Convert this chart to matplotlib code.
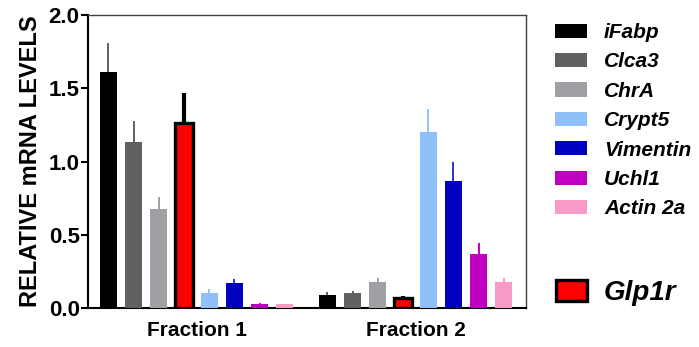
import matplotlib
matplotlib.use("Agg")
import matplotlib.pyplot as plt
from matplotlib.patches import Patch
import numpy as np

plt.rcParams['font.family'] = ['Liberation Sans', 'DejaVu Sans']
plt.rcParams['font.weight'] = 'bold'

genes = ["iFabp", "Clca3", "ChrA", "Glp1r", "Crypt5", "Vimentin", "Uchl1", "Actin 2a"]
groups = ["Fraction 1", "Fraction 2"]
frac1 = [1.61, 1.13, 0.676, 1.265, 0.100, 0.169, 0.025, 0.027]
frac1_err = [0.20, 0.144, 0.085, 0.20, 0.030, 0.027, 0.006, 0.0]
frac2 = [0.091, 0.100, 0.180, 0.066, 1.204, 0.869, 0.366, 0.175]
frac2_err = [0.020, 0.016, 0.027, 0.018, 0.154, 0.130, 0.075, 0.032]

colors = {"iFabp": "#000000", "Clca3": "#606060", "ChrA": "#a0a0a4",
          "Glp1r": "#ff0000", "Crypt5": "#90c0fa", "Vimentin": "#0000c0",
          "Uchl1": "#c000c0", "Actin 2a": "#f89ac8"}
err_colors = {"iFabp": "#606060", "Clca3": "#606060", "ChrA": "#a0a0a4",
              "Glp1r": "#000000", "Crypt5": "#90c0fa", "Vimentin": "#3030d0",
              "Uchl1": "#c000c0", "Actin 2a": "#f89ac8"}

fig = plt.figure(figsize=(6.99, 3.47), dpi=100)
ax = fig.add_axes([88/699, 1-308/347, (526-88)/699, (308-15)/347])

group_gap = 8.69
width = 0.68
for gi, (vals, errs) in enumerate([(frac1, frac1_err), (frac2, frac2_err)]):
    for i, g in enumerate(genes):
        x = gi*group_gap + i
        if g == "Glp1r":
            ax.bar(x, vals[i], width=width, color=colors[g], edgecolor="black",
                   linewidth=2.4, zorder=3)
            if errs[i] > 0:
                ax.errorbar(x, vals[i], yerr=[[0], [errs[i]]], fmt="none",
                            ecolor="black", elinewidth=3.0, capsize=0, zorder=2)
        else:
            ax.bar(x, vals[i], width=width, color=colors[g], edgecolor="none", zorder=3)
            if errs[i] > 0:
                ax.errorbar(x, vals[i], yerr=[[0], [errs[i]]], fmt="none",
                            ecolor=err_colors[g], elinewidth=1.4, capsize=0, zorder=2)

ax.set_xlim(-0.81, 16.57)
ax.set_ylim(0, 2.0)
ax.set_yticks([0, 0.5, 1.0, 1.5, 2.0])
ax.set_yticklabels(["0.0", "0.5", "1.0", "1.5", "2.0"], fontsize=16, fontweight="bold")
ax.set_xticks([3.5, group_gap + 3.5])
ax.set_xticklabels(groups, fontsize=15, fontweight="bold")
ax.tick_params(axis="x", length=0, pad=9)
ax.tick_params(axis="y", length=5, width=1.5, pad=1, direction="out")
ax.set_ylabel("RELATIVE mRNA LEVELS", fontsize=17, fontweight="bold", labelpad=5)

for s in ["left", "bottom"]:
    ax.spines[s].set_linewidth(1.5)
    ax.spines[s].set_color("black")
for s in ["top", "right"]:
    ax.spines[s].set_linewidth(1.0)
    ax.spines[s].set_color("#404040")

legend_genes = [g for g in genes if g != "Glp1r"]
handles = [Patch(facecolor=colors[g], edgecolor="none", label=g) for g in legend_genes]
leg = fig.legend(handles=handles, loc="upper left", bbox_to_anchor=(555/699, 1-23/347),
                 frameon=False, handlelength=1.55, handleheight=0.66,
                 labelspacing=0.5, handletextpad=0.8, borderaxespad=0, borderpad=0,
                 prop={"family": "Liberation Sans", "weight": "bold", "style": "italic", "size": 15})

h2 = [Patch(facecolor=colors["Glp1r"], edgecolor="black", linewidth=2.4, label="Glp1r")]
fig.legend(handles=h2, loc="upper left", bbox_to_anchor=(556/699, 1-280/347),
           frameon=False, handlelength=1.1, handleheight=0.8, handletextpad=0.6,
           borderaxespad=0, borderpad=0,
           prop={"family": "Liberation Sans", "weight": "bold", "style": "italic", "size": 20})

fig.savefig("out.png", dpi=100)
